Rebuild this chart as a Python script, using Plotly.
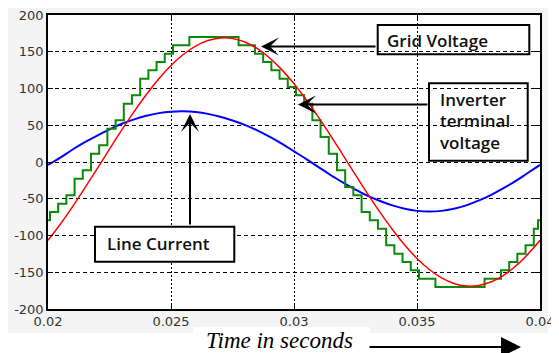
import plotly.graph_objects as go

# ---------------- data ----------------
# Grid voltage (red), sampled every 0.5 ms
t_grid = [0.0200, 0.0205, 0.0210, 0.0215, 0.0220, 0.0225, 0.0230, 0.0235, 0.0240, 0.0245,
          0.0250, 0.0255, 0.0260, 0.0265, 0.0270, 0.0275, 0.0280, 0.0285, 0.0290, 0.0295,
          0.0300, 0.0305, 0.0310, 0.0315, 0.0320, 0.0325, 0.0330, 0.0335, 0.0340, 0.0345,
          0.0350, 0.0355, 0.0360, 0.0365, 0.0370, 0.0375, 0.0380, 0.0385, 0.0390, 0.0395, 0.0400]
v_grid = [-106.5, -84.7, -60.7, -35.3, -9.0, 17.5, 43.6, 68.6, 91.9, 113.0,
          131.3, 146.3, 157.7, 165.3, 168.8, 168.1, 163.3, 154.5, 141.9, 125.7,
          106.5, 84.7, 60.7, 35.3, 9.0, -17.5, -43.6, -68.6, -91.9, -113.0,
          -131.3, -146.3, -157.7, -165.3, -168.8, -168.1, -163.3, -154.5, -141.9, -125.7, -106.5]

# Line current (blue), sampled every 0.5 ms
t_cur = t_grid
i_line = [-4.0, 6.0, 17.0, 27.0, 36.0, 44.5, 52.0, 58.0, 63.0, 66.5,
          68.5, 69.0, 68.0, 65.5, 61.5, 56.5, 50.5, 43.0, 34.5, 25.0,
          14.5, 4.0, -7.0, -18.0, -28.0, -37.5, -46.0, -53.0, -59.0, -63.5,
          -66.5, -67.5, -66.5, -63.5, -59.0, -52.5, -45.0, -36.0, -26.0, -15.0, -4.0]

# Inverter terminal voltage (green staircase): step start times and held levels
t_inv = [0.02, 0.02008, 0.020413, 0.020747, 0.02108, 0.021413, 0.021747, 0.02208, 0.022413, 0.022747,
         0.02308, 0.023413, 0.023747, 0.02408, 0.024413, 0.024747, 0.02508, 0.025413, 0.025747, 0.02608,
         0.026413, 0.026747, 0.02708, 0.027413, 0.027747, 0.02808, 0.028413, 0.028747, 0.02908, 0.029413,
         0.029747, 0.03008, 0.030413, 0.030747, 0.03108, 0.031413, 0.031747, 0.03208, 0.032413, 0.032747,
         0.03308, 0.033413, 0.033747, 0.03408, 0.034413, 0.034747, 0.03508, 0.035413, 0.035747, 0.03608,
         0.036413, 0.036747, 0.03708, 0.037413, 0.037747, 0.03808, 0.038413, 0.038747, 0.03908, 0.039413,
         0.039747, 0.03992, 0.04]
v_inv = [-79.3, -68.0, -56.7, -45.3, -22.7, -11.3, 11.3, 22.7, 45.3, 56.7,
         79.3, 90.7, 113.3, 124.7, 136.0, 147.3, 158.7, 158.7, 170.0, 170.0,
         170.0, 170.0, 170.0, 170.0, 158.7, 158.7, 147.3, 136.0, 124.7, 113.3,
         102.0, 90.7, 79.3, 56.7, 34.0, 11.3, -11.3, -34.0, -45.3, -68.0,
         -79.3, -90.7, -113.3, -124.7, -136.0, -147.3, -158.7, -158.7, -170.0, -170.0,
         -170.0, -170.0, -170.0, -170.0, -158.7, -158.7, -147.3, -136.0, -124.7, -113.3,
         -90.7, -79.3, -79.3]

x_ticks = [0.02, 0.025, 0.03, 0.035, 0.04]
x_tick_text = ["0.02", "0.025", "0.03", "0.035", "0.04"]
y_ticks = [-200, -150, -100, -50, 0, 50, 100, 150, 200]
y_tick_text = ["-200", "-150", "-100", "-50", "0", "50", "100", "150", "200"]

# ---------------- layout geometry (screen pixels) ----------------
W, H = 559, 353
OFF = 8                      # page body margin offsets the figure by 8 px
PL, PT, PR, PB = 48, 15, 540, 309   # plot area on screen
L, T = PL - OFF, PT - OFF
PW, PH = PR - PL, PB - PT
R, B = W - L - PW, H - T - PH


def px(x):
    return (x - PL) / PW


def py(y):
    return (PB - y) / PH


fig = go.Figure()
fig.add_trace(go.Scatter(x=t_cur, y=i_line, mode="lines", line=dict(color="#0000ff", width=2, shape="spline"),
                         name="Line Current", hoverinfo="skip"))
fig.add_trace(go.Scatter(x=t_inv, y=v_inv, mode="lines", line=dict(color="#0a8a0a", width=2, shape="hv"),
                         name="Inverter terminal voltage", hoverinfo="skip"))
fig.add_trace(go.Scatter(x=t_grid, y=v_grid, mode="lines", line=dict(color="#ff0000", width=1.5, shape="spline"),
                         name="Grid Voltage", hoverinfo="skip"))

tickfont = dict(family="DejaVu Sans", size=13, color="#333333")
axis_common = dict(showgrid=True, gridcolor="black", gridwidth=1, zeroline=False,
                   showline=True, linecolor="black", linewidth=1.5, mirror="ticks",
                   ticks="inside", ticklen=5, tickcolor="black", tickfont=tickfont,
                   automargin=False, ticklabeloverflow="allow")
fig.update_xaxes(range=[0.02, 0.04], tickvals=x_ticks, ticktext=x_tick_text, griddash="2px,2px", **axis_common)
fig.update_yaxes(range=[-200, 200], tickvals=y_ticks, ticktext=y_tick_text, griddash="4px,3px", **axis_common)

shapes = [
    dict(type="rect", xref="paper", yref="paper", x0=px(7), x1=px(548), y0=py(333), y1=py(5),
         fillcolor="#f4f4f4", line=dict(width=0), layer="below"),
    dict(type="rect", xref="paper", yref="paper", x0=0, x1=1, y0=0, y1=1,
         fillcolor="white", line=dict(width=0), layer="below"),
    # white patch behind the axis caption
    dict(type="rect", xref="paper", yref="paper", x0=px(193), x1=px(370), y0=py(353), y1=py(327),
         fillcolor="white", line=dict(width=0), layer="below"),
    dict(type="rect", xref="paper", yref="paper", x0=px(377.7), x1=px(529.3), y0=py(54.3), y1=py(25),
         line=dict(color="black", width=2), fillcolor="rgba(0,0,0,0)"),
    dict(type="rect", xref="paper", yref="paper", x0=px(429), x1=px(527.7), y0=py(160.7), y1=py(83.3),
         line=dict(color="black", width=2), fillcolor="rgba(0,0,0,0)"),
    dict(type="rect", xref="paper", yref="paper", x0=px(95), x1=px(234.3), y0=py(261.7), y1=py(226.7),
         line=dict(color="black", width=2), fillcolor="white"),
]

lab_font = dict(family="Open Sans", size=17, color="#111111", weight=600)


def label(text, x, y):
    return dict(text=text, xref="paper", yref="paper", x=px(x), y=py(y), xanchor="left",
                yanchor="middle", showarrow=False, font=lab_font)


def arrow(x, y, ax, ay):
    return dict(text="", xref="paper", yref="paper", x=px(x), y=py(y), ax=ax, ay=ay,
                showarrow=True, arrowhead=3, arrowsize=1.5, arrowwidth=2, arrowcolor="black", standoff=0)


annotations = [
    label("Grid Voltage", 385, 40.5),
    label("Inverter", 438, 99.5),
    label("terminal", 438, 121),
    label("voltage", 438, 142.5),
    label("Line Current", 105, 243),
    arrow(261, 46.5, 116, 0),
    arrow(298, 104.5, 131, 0),
    arrow(190, 114, 0, 112),
    # x-axis title with arrow
    dict(text="<i>Time in seconds</i>", xref="paper", yref="paper", x=px(279), y=py(341),
         xanchor="center", yanchor="middle", showarrow=False, borderpad=0,
         font=dict(family="Liberation Serif", size=23, color="black")),
    dict(text="", xref="paper", yref="paper", x=px(521), y=py(347), ax=-153, ay=0,
         showarrow=True, arrowhead=2, arrowsize=2, arrowwidth=2, arrowcolor="black", standoff=0),
]

fig.update_layout(width=W, height=H, margin=dict(l=L, r=R, t=T, b=B, pad=0, autoexpand=False),
                  paper_bgcolor="white", plot_bgcolor="white", showlegend=False,
                  shapes=shapes, annotations=annotations)

fig.write_html("out.html")
